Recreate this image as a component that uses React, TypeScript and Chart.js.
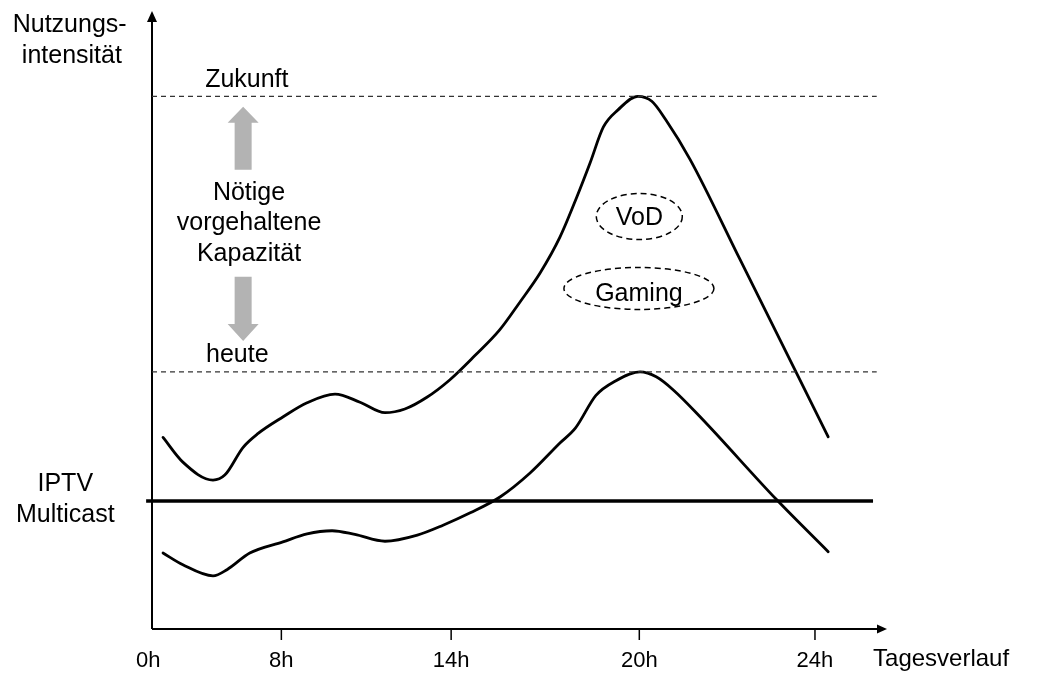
import React, { useEffect, useRef } from 'react';
import { Chart, registerables } from 'chart.js';

Chart.register(...registerables);

// ---- data (x in drawing units along the time axis 0..100, y in intensity units 0..100)
const xTickLabels = ['0h', '8h', '14h', '20h', '24h'];
const xTickValues = [-0.5, 17.6, 40.7, 66.3, 90.2];

const futureX = [1.5, 4.2, 8.3, 9.9, 12.4, 14.4, 17.8, 21.1, 24.9, 28.3, 31.7, 34.4, 37.4, 40.5, 43.9, 47.3, 50.0, 52.8, 55.5, 57.8, 59.6, 61.4, 63.4, 66.1, 68.0, 69.9, 73.2, 80.0, 92.0];
const futureY = [31.0, 27.0, 24.1, 24.9, 29.4, 31.6, 34.3, 36.6, 38.0, 36.7, 35.0, 35.6, 37.5, 40.3, 44.2, 48.4, 52.8, 57.6, 63.4, 69.9, 75.4, 81.2, 84.0, 86.2, 85.4, 82.4, 76.0, 59.8, 31.1];

const todayX = [1.5, 4.2, 8.3, 10.2, 13.3, 17.8, 21.1, 24.5, 27.6, 31.7, 36.1, 39.6, 43.3, 47.4, 51.4, 55.5, 57.6, 60.4, 63.0, 66.4, 68.6, 71.0, 74.6, 85.0, 92.0];
const todayY = [12.3, 10.4, 8.6, 9.6, 12.3, 14.1, 15.4, 15.9, 15.3, 14.2, 15.2, 16.8, 18.8, 21.4, 25.2, 30.1, 32.5, 37.8, 40.1, 41.6, 40.8, 38.6, 34.3, 20.9, 12.5];

const levelNames = ['Zukunft', 'heute', 'IPTV Multicast'];
const levelValues = [86.2, 41.6, 20.7];
const levelStart = [0, 0, -0.8];
const levelEnd = [98.6, 98.6, 98.1];

const FONT = "'Liberation Sans', Arial, Helvetica, sans-serif";

const toPoints = (xs: number[], ys: number[]) => xs.map((x, i) => ({ x, y: ys[i] }));

const decorPlugin = {
  id: 'decor',
  beforeDatasetsDraw(chart: any) {
    const ctx = chart.ctx as CanvasRenderingContext2D;
    const xs = chart.scales.x;
    const ys = chart.scales.y;
    const X = (v: number) => xs.getPixelForValue(v);
    const Y = (v: number) => ys.getPixelForValue(v);
    ctx.save();
    ctx.strokeStyle = '#000';
    ctx.fillStyle = '#000';
    ctx.lineWidth = 2;
    // y axis
    const x0 = X(0), y0 = Y(0);
    ctx.beginPath();
    ctx.moveTo(x0, y0);
    ctx.lineTo(x0, Y(100) + 10);
    ctx.stroke();
    ctx.beginPath();
    ctx.moveTo(x0, Y(100));
    ctx.lineTo(x0 - 5, Y(100) + 11);
    ctx.lineTo(x0 + 5, Y(100) + 11);
    ctx.closePath();
    ctx.fill();
    // x axis
    ctx.beginPath();
    ctx.moveTo(x0, y0);
    ctx.lineTo(X(100) - 9, y0);
    ctx.stroke();
    ctx.beginPath();
    ctx.moveTo(X(100), y0);
    ctx.lineTo(X(100) - 10, y0 - 4.5);
    ctx.lineTo(X(100) - 10, y0 + 4.5);
    ctx.closePath();
    ctx.fill();
    // ticks
    ctx.lineWidth = 1.5;
    xTickValues.forEach((v, i) => {
      if (i > 0) {
        ctx.beginPath();
        ctx.moveTo(X(v), y0);
        ctx.lineTo(X(v), y0 + 11);
        ctx.stroke();
      }
    });
    ctx.font = `22px ${FONT}`;
    ctx.textAlign = 'center';
    ctx.textBaseline = 'alphabetic';
    xTickLabels.forEach((l, i) => ctx.fillText(l, X(xTickValues[i]), Y(-6.15)));
    ctx.font = `24px ${FONT}`;
    ctx.textAlign = 'left';
    ctx.fillText('Tagesverlauf', X(98.1), Y(-6.0));
    // axis title
    ctx.font = `25px ${FONT}`;
    ctx.textAlign = 'center';
    ctx.fillText('Nutzungs-', X(-11.2), Y(96.6));
    ctx.fillText('intensität', X(-10.9), Y(91.6));
    ctx.restore();
  },
  afterDatasetsDraw(chart: any) {
    const ctx = chart.ctx as CanvasRenderingContext2D;
    const xs = chart.scales.x;
    const ys = chart.scales.y;
    const X = (v: number) => xs.getPixelForValue(v);
    const Y = (v: number) => ys.getPixelForValue(v);
    ctx.save();
    ctx.fillStyle = '#000';
    ctx.font = `25px ${FONT}`;
    ctx.textAlign = 'center';
    ctx.textBaseline = 'alphabetic';
    ctx.fillText(levelNames[0], X(12.9), Y(87.7));
    ctx.fillText(levelNames[1], X(11.6), Y(43.2));
    ctx.fillText('IPTV', X(-11.8), Y(22.3));
    ctx.fillText('Multicast', X(-11.8), Y(17.3));
    ctx.fillText('Nötige', X(13.2), Y(69.4));
    ctx.fillText('vorgehaltene', X(13.2), Y(64.6));
    ctx.fillText('Kapazität', X(13.2), Y(59.6));

    // gray arrows
    ctx.fillStyle = '#b3b3b3';
    const ax = X(12.4);
    const drawArrow = (tip: number, base: number, end: number) => {
      ctx.beginPath();
      ctx.moveTo(ax, Y(tip));
      ctx.lineTo(ax + 15.5, Y(base));
      ctx.lineTo(ax + 8.5, Y(base));
      ctx.lineTo(ax + 8.5, Y(end));
      ctx.lineTo(ax - 8.5, Y(end));
      ctx.lineTo(ax - 8.5, Y(base));
      ctx.lineTo(ax - 15.5, Y(base));
      ctx.closePath();
      ctx.fill();
    };
    drawArrow(84.5, 81.9, 74.3);
    drawArrow(46.6, 49.35, 57.0);

    // dashed ellipses
    ctx.strokeStyle = '#000';
    ctx.lineWidth = 1.5;
    ctx.setLineDash([6, 4]);
    ctx.beginPath();
    ctx.ellipse(X(66.3), Y(66.75), 43, 23, 0, 0, Math.PI * 2);
    ctx.stroke();
    ctx.beginPath();
    ctx.ellipse(X(66.25), Y(55.1), 75, 21, 0, 0, Math.PI * 2);
    ctx.stroke();
    ctx.setLineDash([]);
    ctx.fillStyle = '#000';
    ctx.fillText('VoD', X(66.3), Y(65.4));
    ctx.fillText('Gaming', X(66.25), Y(53.1));
    ctx.restore();
  },
};

export default function App() {
  const ref = useRef<HTMLCanvasElement | null>(null);
  useEffect(() => {
    if (!ref.current) return;
    const levelSets = levelValues.map((v, i) => ({
      label: levelNames[i],
      data: [
        { x: levelStart[i], y: v },
        { x: levelEnd[i], y: v },
      ],
      borderColor: i === 2 ? '#000' : '#333',
      borderWidth: i === 2 ? 3.5 : 1.3,
      borderDash: i === 2 ? [] : [5, 4],
      pointRadius: 0,
      tension: 0,
      clip: false as any,
    }));
    const curve = (label: string, xs: number[], ys: number[]) => ({
      label,
      data: toPoints(xs, ys),
      borderColor: '#000',
      borderWidth: 2.8,
      pointRadius: 0,
      cubicInterpolationMode: 'monotone' as const,
      borderCapStyle: 'round' as const,
      borderJoinStyle: 'round' as const,
      clip: false as any,
    });
    const chart = new Chart(ref.current, {
      type: 'line',
      data: {
        datasets: [
          ...levelSets,
          curve('Zukunft', futureX, futureY),
          curve('heute', todayX, todayY),
        ],
      },
      options: {
        responsive: false,
        animation: false,
        layout: { padding: { left: 152, right: 153, top: 11, bottom: 45 } },
        scales: {
          x: { type: 'linear', min: 0, max: 100, display: false },
          y: { type: 'linear', min: 0, max: 100, display: false },
        },
        plugins: { legend: { display: false }, tooltip: { enabled: false } },
      },
      plugins: [decorPlugin],
    });
    return () => chart.destroy();
  }, []);
  return (
    <div style={{ position: 'fixed', left: 0, top: 0, width: 1040, height: 674, background: '#fff' }}>
      <canvas ref={ref} width={1040} height={674} style={{ display: 'block' }} />
    </div>
  );
}
